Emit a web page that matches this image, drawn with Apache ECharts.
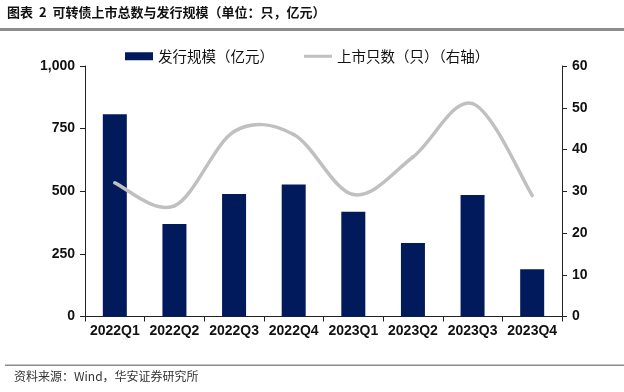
<!DOCTYPE html>
<html>
<head>
<meta charset="utf-8">
<script src="https://cdn.jsdelivr.net/npm/echarts@6/dist/echarts.min.js"></script>
<style>html,body{margin:0;padding:0;background:#fff;}#c{width:624px;height:392px;}</style>
</head>
<body>
<div id="c"></div>
<script>
const categories = ['2022Q1','2022Q2','2022Q3','2022Q4','2023Q1','2023Q2','2023Q3','2023Q4'];
const issueScale = [807, 369, 489, 527, 418, 293, 485, 189];
const listedCount = [32, 26.5, 44.3, 43.6, 29.2, 38.2, 51, 29];
const leftTicks = [0, 250, 500, 750, 1000];
const rightTicks = [0, 10, 20, 30, 40, 50, 60];

const chart = echarts.init(document.getElementById('c'));
const axisFont = {fontFamily: 'Liberation Sans, Arial', fontWeight: 'bold', fontSize: 14, color: '#111'};

// smooth line (Catmull-Rom style, like office charts), each segment drawn via axis coordinates
function renderSegment(params, api) {
  const i = params.dataIndex;
  const n = listedCount.length;
  if (i >= n - 1) return null;
  const P = j => api.coord([Math.max(0, Math.min(n - 1, j)), listedCount[Math.max(0, Math.min(n - 1, j))]]);
  const p0 = P(i - 1), p1 = P(i), p2 = P(i + 1), p3 = P(i + 2);
  const t = 1 / 6;
  return {
    type: 'bezierCurve',
    shape: {
      x1: p1[0], y1: p1[1], x2: p2[0], y2: p2[1],
      cpx1: p1[0] + (p2[0] - p0[0]) * t, cpy1: p1[1] + (p2[1] - p0[1]) * t,
      cpx2: p2[0] - (p3[0] - p1[0]) * t, cpy2: p2[1] - (p3[1] - p1[1]) * t
    },
    style: {stroke: '#c0c0c0', lineWidth: 3.5, fill: null, lineCap: 'round'}
  };
}

chart.setOption({
  animation: false,
  grid: {left: 85, right: 62, top: 66, bottom: 75.5},
  graphic: [
    {type: 'text', left: 7, top: 6, style: {text: '图表  2  可转债上市总数与发行规模（单位：只，亿元）', font: 'bold 13px "Noto Sans CJK SC"', fill: '#111'}},
    {type: 'rect', shape: {x: 0, y: 28, width: 624, height: 3}, style: {fill: '#8c8c8c'}},
    {type: 'rect', shape: {x: 5, y: 364.5, width: 619, height: 1.5}, style: {fill: '#8c8c8c'}},
    {type: 'text', left: 14, top: 370, style: {text: '资料来源：Wind，华安证券研究所', font: '12px "Noto Sans CJK SC"', fill: '#333'}}
  ],
  legend: {
    top: 44, left: 120, itemGap: 30, itemWidth: 28, itemHeight: 8,
    textStyle: {fontFamily: 'Noto Sans CJK SC', fontSize: 14.5, color: '#111'},
    data: [
      {name: '发行规模（亿元）', icon: 'rect', itemStyle: {color: '#001a5c'}},
      {name: '上市只数（只）（右轴）', icon: 'path://M0,0H28V3H0Z', itemStyle: {color: '#c0c0c0'}}
    ]
  },
  xAxis: {
    type: 'category', data: categories,
    axisLine: {lineStyle: {color: '#222', width: 1}},
    axisTick: {show: true, alignWithLabel: false, length: 5, lineStyle: {color: '#222'}},
    axisLabel: Object.assign({margin: 8, interval: 0}, axisFont)
  },
  yAxis: [
    {type: 'value', min: 0, max: 1000, interval: 250,
     axisLine: {show: true, lineStyle: {color: '#222'}},
     axisTick: {show: true, length: 5, lineStyle: {color: '#222'}},
     splitLine: {show: false},
     axisLabel: Object.assign({margin: 10, formatter: v => leftTicks.includes(v) ? v.toLocaleString('en-US') : ''}, axisFont)},
    {type: 'value', min: 0, max: 60, interval: 10,
     axisLine: {show: true, lineStyle: {color: '#222'}},
     axisTick: {show: true, length: 5, lineStyle: {color: '#222'}},
     splitLine: {show: false},
     axisLabel: Object.assign({margin: 10, formatter: v => rightTicks.includes(v) ? String(v) : ''}, axisFont)}
  ],
  series: [
    {name: '发行规模（亿元）', type: 'bar', data: issueScale, barWidth: 24, yAxisIndex: 0,
     itemStyle: {color: '#001a5c'}},
    {name: '上市只数（只）（右轴）', type: 'custom', yAxisIndex: 1,
     data: listedCount.map((v, i) => [i, v]), encode: {x: 0, y: 1},
     renderItem: renderSegment, itemStyle: {color: '#c0c0c0'}, z: 3}
  ]
});
</script>
</body>
</html>
